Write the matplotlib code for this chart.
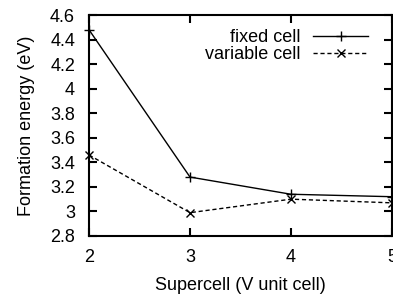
import matplotlib
matplotlib.use("Agg")
import matplotlib.pyplot as plt

# dados
supercell = [2, 3, 4, 5]
fixed_cell = [4.48, 3.28, 3.14, 3.12]
variable_cell = [3.46, 2.99, 3.10, 3.07]
yticks = [2.8, 3, 3.2, 3.4, 3.6, 3.8, 4, 4.2, 4.4, 4.6]
ytick_labels = ["2.8", "3", "3.2", "3.4", "3.6", "3.8", "4", "4.2", "4.4", "4.6"]

plt.rcParams['font.family'] = ['Liberation Sans', 'DejaVu Sans']
plt.rcParams['font.size'] = 13

fig = plt.figure(figsize=(3.93, 2.99), dpi=100)
ax = fig.add_axes([89 / 393, 1 - 236 / 299, 303 / 393, 221 / 299])

ax.plot(supercell, fixed_cell, 'k-', marker='+', markersize=7, lw=1.0,
        mew=1.0, label='fixed cell', clip_on=False)
ax.plot(supercell, variable_cell, 'k--', marker='x', markersize=6, lw=1.0,
        mew=1.0, label='variable cell', clip_on=False, dashes=(3, 2))

ax.set_xlim(2, 5)
ax.set_ylim(2.8, 4.6)
ax.set_xticks(supercell)
ax.set_yticks(yticks)
ax.set_yticklabels(ytick_labels)
ax.tick_params(direction='in', top=True, right=True, length=6, width=1.5,
               labelsize=13)
ax.tick_params(axis='x', pad=9)
ax.tick_params(axis='y', pad=10)
for s in ax.spines.values():
    s.set_linewidth(1.5)

ax.set_xlabel('Supercell (V unit cell)', fontsize=13, labelpad=8)
ax.set_ylabel('Formation energy (eV)', fontsize=13, labelpad=11)

# legenda sem moldura, texto a esquerda da amostra
leg = ax.legend(loc='upper right', frameon=False, markerfirst=False,
                handlelength=3.05, fontsize=13, borderaxespad=0.0,
                labelspacing=0.0, handletextpad=0.72,
                bbox_to_anchor=(0.945, 0.97))
for t in leg.get_texts():
    t.set_ha('right')

fig.savefig('out.png', dpi=100)
